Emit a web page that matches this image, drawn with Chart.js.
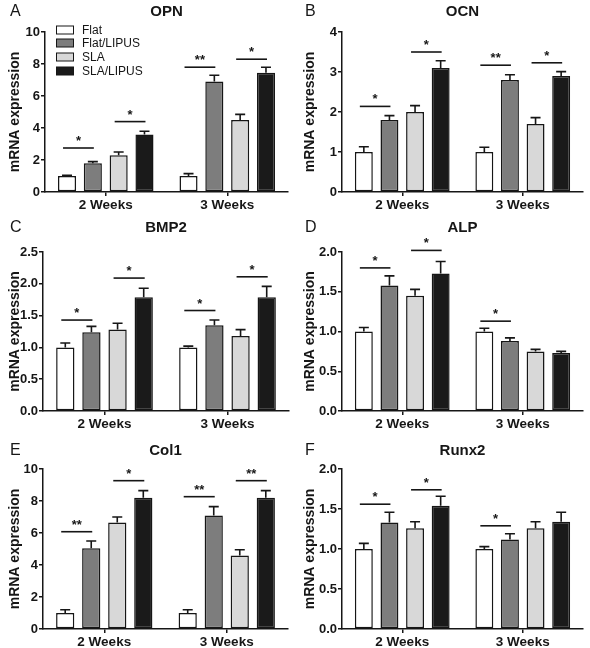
<!DOCTYPE html>
<html>
<head>
<meta charset="utf-8">
<script src="https://cdn.jsdelivr.net/npm/chart.js@4.4.0/dist/chart.umd.min.js"></script>
<style>
  body { margin: 0; background: #fff; }
  #wrap { position: relative; width: 590px; height: 648px; }
  canvas { position: absolute; }
</style>
</head>
<body>
<div id="wrap">
  <canvas id="cA" width="295" height="215" style="left:0;top:0"></canvas>
  <canvas id="cB" width="295" height="215" style="left:295px;top:0"></canvas>
  <canvas id="cC" width="295" height="215" style="left:0;top:215px"></canvas>
  <canvas id="cD" width="295" height="215" style="left:295px;top:215px"></canvas>
  <canvas id="cE" width="295" height="218" style="left:0;top:430px"></canvas>
  <canvas id="cF" width="295" height="218" style="left:295px;top:430px"></canvas>
</div>
<script>
// ------------------------------
// Data
// ------------------------------
const weeks = ["2 Weeks", "3 Weeks"];
const groups = ["Flat", "Flat/LIPUS", "SLA", "SLA/LIPUS"];
const groupColors = ["#ffffff", "#7d7d7d", "#d8d8d8", "#1a1a1a"];

// means / errors per group: [2 Weeks, 3 Weeks]
const opnMean = [[1.0, 1.0], [1.8, 6.9], [2.3, 4.5], [3.6, 7.45]];
const opnErr  = [[0.05, 0.15], [0.1, 0.4], [0.2, 0.35], [0.2, 0.35]];
const opnSig  = [[0, 0, 1, 2.75, "*"], [0, 2, 3, 4.4, "*"], [1, 0, 1, 7.8, "**"], [1, 2, 3, 8.3, "*"]];
const opnTicks = [0, 2, 4, 6, 8, 10];

const ocnMean = [[1.0, 1.0], [1.8, 2.8], [2.0, 1.7], [3.1, 2.9]];
const ocnErr  = [[0.13, 0.12], [0.11, 0.13], [0.16, 0.16], [0.18, 0.11]];
const ocnSig  = [[0, 0, 1, 2.14, "*"], [0, 2, 3, 3.5, "*"], [1, 0, 1, 3.17, "**"], [1, 2, 3, 3.23, "*"]];
const ocnTicks = [0, 1, 2, 3, 4];

const bmpMean = [[1.0, 1.0], [1.24, 1.35], [1.28, 1.18], [1.79, 1.79]];
const bmpErr  = [[0.07, 0.02], [0.09, 0.08], [0.1, 0.1], [0.14, 0.17]];
const bmpSig  = [[0, 0, 1, 1.43, "*"], [0, 2, 3, 2.09, "*"], [1, 0, 1, 1.58, "*"], [1, 2, 3, 2.11, "*"]];
const bmpTicks = [0, 0.5, 1.0, 1.5, 2.0, 2.5];

const alpMean = [[1.0, 1.0], [1.58, 0.88], [1.45, 0.75], [1.73, 0.73]];
const alpErr  = [[0.05, 0.04], [0.12, 0.04], [0.08, 0.025], [0.15, 0.02]];
const alpSig  = [[0, 0, 1, 1.8, "*"], [0, 2, 3, 2.02, "*"], [1, 0, 1, 1.13, "*"]];
const alpTicks = [0, 0.5, 1.0, 1.5, 2.0];

const colMean = [[1.0, 1.0], [5.05, 7.1], [6.65, 4.6], [8.2, 8.2]];
const colErr  = [[0.2, 0.2], [0.45, 0.55], [0.35, 0.35], [0.45, 0.45]];
const colSig  = [[0, 0, 1, 6.08, "**"], [0, 2, 3, 9.27, "*"], [1, 0, 1, 8.27, "**"], [1, 2, 3, 9.27, "**"]];
const colTicks = [0, 2, 4, 6, 8, 10];

const runxMean = [[1.0, 1.0], [1.33, 1.12], [1.26, 1.26], [1.54, 1.34]];
const runxErr  = [[0.07, 0.03], [0.13, 0.07], [0.08, 0.08], [0.12, 0.12]];
const runxSig  = [[0, 0, 1, 1.56, "*"], [0, 2, 3, 1.74, "*"], [1, 0, 1, 1.29, "*"]];
const runxTicks = [0, 0.5, 1.0, 1.5, 2.0];

// ------------------------------
// Panels
// ------------------------------
const FONT = "'Liberation Sans', Arial, sans-serif";
const INK = "#161616";

const panels = [
  { id: "cA", letter: "A", title: "OPN",   mean: opnMean,  err: opnErr,  sig: opnSig,  ticks: opnTicks,  dec: 0,
    area: { left: 45, right: 288, top: 32, bottom: 192 }, headY: 12, legend: true },
  { id: "cB", letter: "B", title: "OCN",   mean: ocnMean,  err: ocnErr,  sig: ocnSig,  ticks: ocnTicks,  dec: 0,
    area: { left: 47, right: 288, top: 32, bottom: 192 }, headY: 12 },
  { id: "cC", letter: "C", title: "BMP2",  mean: bmpMean,  err: bmpErr,  sig: bmpSig,  ticks: bmpTicks,  dec: 1,
    area: { left: 43, right: 289, top: 37, bottom: 196 }, headY: 13 },
  { id: "cD", letter: "D", title: "ALP",   mean: alpMean,  err: alpErr,  sig: alpSig,  ticks: alpTicks,  dec: 1,
    area: { left: 47, right: 288, top: 37, bottom: 196 }, headY: 13 },
  { id: "cE", letter: "E", title: "Col1",  mean: colMean,  err: colErr,  sig: colSig,  ticks: colTicks,  dec: 0,
    area: { left: 43, right: 288, top: 39, bottom: 199 }, headY: 21 },
  { id: "cF", letter: "F", title: "Runx2", mean: runxMean, err: runxErr, sig: runxSig, ticks: runxTicks, dec: 1,
    area: { left: 47, right: 288, top: 39, bottom: 199 }, headY: 21 }
];

// error bars (upper only) + significance lines + headings + legend
const decorPlugin = {
  id: "decor",
  afterDatasetsDraw(chart, args, opts) {
    const p = opts.panel;
    const ctx = chart.ctx;
    const y = chart.scales.y;
    ctx.save();
    ctx.strokeStyle = INK;
    ctx.lineWidth = 1.6;

    // error bars
    p.mean.forEach((vals, g) => {
      const meta = chart.getDatasetMeta(g);
      meta.data.forEach((bar, w) => {
        const top = y.getPixelForValue(vals[w] + p.err[g][w]);
        ctx.beginPath();
        ctx.moveTo(bar.x, bar.y);
        ctx.lineTo(bar.x, top);
        ctx.moveTo(bar.x - 5, top);
        ctx.lineTo(bar.x + 5, top);
        ctx.stroke();
      });
    });

    // significance
    ctx.fillStyle = INK;
    ctx.textAlign = "center";
    ctx.textBaseline = "alphabetic";
    ctx.font = "bold 13px " + FONT;
    p.sig.forEach(([w, g1, g2, v, label]) => {
      const x1 = chart.getDatasetMeta(g1).data[w].x - 4;
      const x2 = chart.getDatasetMeta(g2).data[w].x + 1;
      const py = y.getPixelForValue(v);
      ctx.beginPath();
      ctx.moveTo(x1, py);
      ctx.lineTo(x2, py);
      ctx.stroke();
      ctx.fillText(label, (x1 + x2) / 2, py - 3);
    });

    // heading
    ctx.textBaseline = "middle";
    ctx.textAlign = "left";
    ctx.font = "16px " + FONT;
    ctx.fillText(p.letter, 10, p.headY);
    ctx.textAlign = "center";
    ctx.font = "bold 15px " + FONT;
    ctx.fillText(p.title, (chart.chartArea.left + chart.chartArea.right) / 2, p.headY);

    // legend
    if (p.legend) {
      const rows = [30, 43, 57, 71];
      ctx.font = "12px " + FONT;
      ctx.textAlign = "left";
      ctx.lineWidth = 1;
      groups.forEach((name, g) => {
        ctx.fillStyle = groupColors[g];
        ctx.fillRect(56.5, rows[g] - 4, 17, 8);
        ctx.strokeRect(56.5, rows[g] - 4, 17, 8);
        ctx.fillStyle = INK;
        ctx.fillText(name, 82, rows[g] + 1);
      });
    }
    ctx.restore();
  }
};

panels.forEach(p => {
  const canvas = document.getElementById(p.id);
  const W = canvas.width, H = canvas.height;
  new Chart(canvas, {
    type: "bar",
    data: {
      labels: weeks,
      datasets: groups.map((name, g) => ({
        label: name,
        data: p.mean[g],
        backgroundColor: groupColors[g],
        borderColor: INK,
        borderWidth: 1.5,
        borderSkipped: false,
        barPercentage: 0.7,
        categoryPercentage: 0.85
      }))
    },
    options: {
      responsive: false,
      animation: false,
      layout: { padding: { top: p.area.top, right: W - p.area.right, left: 0, bottom: 0 } },
      plugins: {
        legend: { display: false },
        tooltip: { enabled: false },
        decor: { panel: p }
      },
      scales: {
        x: {
          grid: { display: true, offset: false, drawOnChartArea: false, color: INK, lineWidth: 1.5, tickLength: 4 },
          border: { color: INK, width: 1.5 },
          ticks: { color: INK, padding: 1, font: { family: FONT, size: 13.5, weight: "bold" } },
          afterFit(s) { s.height = H - p.area.bottom; }
        },
        y: {
          min: p.ticks[0],
          max: p.ticks[p.ticks.length - 1],
          grid: { drawOnChartArea: false, color: INK, lineWidth: 1.5, tickLength: 4 },
          border: { color: INK, width: 1.5 },
          ticks: {
            color: INK, padding: 1,
            font: { family: FONT, size: 13, weight: "bold" },
            callback: v => Number(v).toFixed(p.dec)
          },
          afterBuildTicks(s) { s.ticks = p.ticks.map(v => ({ value: v })); },
          title: {
            display: true, text: "mRNA expression", color: INK,
            font: { family: FONT, size: 14, weight: "bold" },
            padding: { top: 7, bottom: 0 }
          },
          afterFit(s) { s.width = p.area.left; }
        }
      }
    },
    plugins: [decorPlugin]
  });
});
</script>
</body>
</html>
